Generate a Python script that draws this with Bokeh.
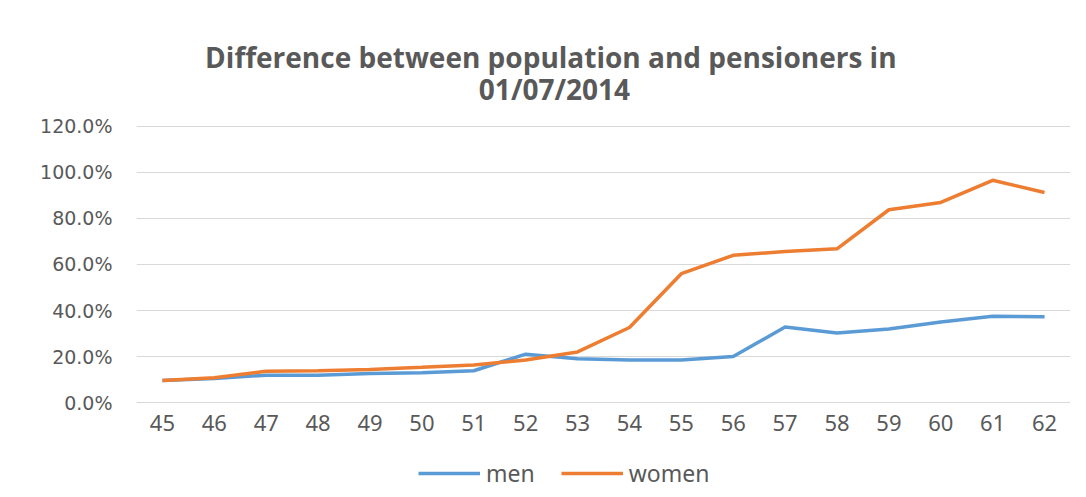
from bokeh.plotting import figure
from bokeh.models import Range1d, FixedTicker, NumeralTickFormatter, Legend, LegendItem, Label
from bokeh.embed import file_html
from bokeh.resources import INLINE

# ---- data ----
ages = [45, 46, 47, 48, 49, 50, 51, 52, 53, 54, 55, 56, 57, 58, 59, 60, 61, 62]
men = [0.096, 0.104, 0.119, 0.119, 0.126, 0.129, 0.138, 0.210, 0.190, 0.185,
       0.185, 0.200, 0.328, 0.302, 0.320, 0.350, 0.375, 0.373]
women = [0.096, 0.108, 0.136, 0.138, 0.144, 0.153, 0.163, 0.185, 0.220, 0.326,
         0.560, 0.640, 0.656, 0.668, 0.838, 0.870, 0.966, 0.913]
y_ticks = [0.0, 0.2, 0.4, 0.6, 0.8, 1.0, 1.2]
title_lines = ["Difference between population  and pensioners in", "01/07/2014"]

GRAY = "#595959"
BLUE = "#5B9BD5"
ORANGE = "#ED7D31"

# frame spans from just below the top to the bottom edge, so that the title
# and legend can sit inside it; the x axis is pinned at y = 0
p = figure(width=1078, height=497, output_backend="svg", toolbar_location=None,
           x_range=Range1d(44.5, 62.5), y_range=Range1d(-0.413, 1.7043),
           min_border_left=136, min_border_right=8, min_border_top=10,
           min_border_bottom=0)
p.background_fill_color = "white"
p.border_fill_color = "white"
p.outline_line_color = None

r_men = p.line(ages, men, line_color=BLUE, line_width=3.5)
r_women = p.line(ages, women, line_color=ORANGE, line_width=3.5)

# axes
p.xaxis.fixed_location = 0
p.xaxis.ticker = FixedTicker(ticks=ages)
p.xaxis.axis_line_color = None
p.xaxis.major_tick_line_color = None
p.xaxis.minor_tick_line_color = None
p.xaxis.major_tick_out = 0
p.xaxis.major_label_standoff = 12
p.xaxis.major_label_text_font = "Noto Sans"
p.xaxis.major_label_text_font_size = "22px"
p.xaxis.major_label_text_color = GRAY

p.yaxis.ticker = FixedTicker(ticks=y_ticks)
p.yaxis.formatter = NumeralTickFormatter(format="0.0%")
p.yaxis.axis_line_color = None
p.yaxis.major_tick_line_color = None
p.yaxis.minor_tick_line_color = None
p.yaxis.major_tick_out = 0
p.yaxis.major_label_standoff = 24
p.yaxis.major_label_text_font = "DejaVu Sans"
p.yaxis.major_label_text_font_size = "19px"
p.yaxis.major_label_text_color = GRAY

p.xgrid.grid_line_color = None
p.ygrid.ticker = FixedTicker(ticks=y_ticks)
p.ygrid.grid_line_color = "#d9d9d9"
p.ygrid.grid_line_width = 1

# title as labels inside the (enlarged) frame
for txt, yy in zip(title_lines, [1.502, 1.363]):
    p.add_layout(Label(x=52.555, y=yy, text=txt, text_align="center",
                       text_baseline="middle", text_font="Open Sans",
                       text_font_style="bold", text_font_size="28px",
                       text_color=GRAY))

legend = Legend(items=[LegendItem(label="men", renderers=[r_men]),
                       LegendItem(label="women", renderers=[r_women])],
                orientation="horizontal", location=(282, 8),
                label_text_font="Noto Sans", label_text_font_size="23px",
                label_text_color=GRAY, glyph_width=62, glyph_height=22,
                label_standoff=6, spacing=26, border_line_color=None,
                background_fill_alpha=0, padding=0, margin=0)
p.add_layout(legend)

open("out.html", "w").write(file_html(p, INLINE))
